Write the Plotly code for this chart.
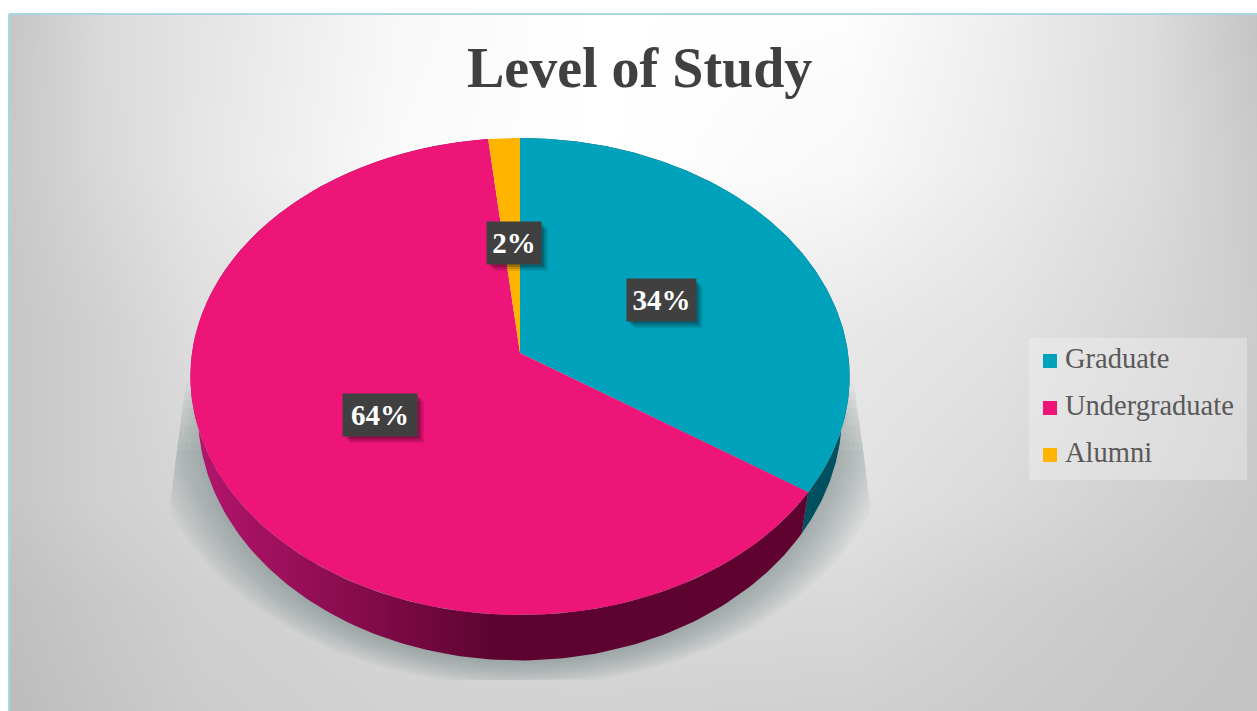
import numpy as np
import plotly.graph_objects as go

# chart values (labels round them)
categories = ["Graduate", "Undergraduate", "Alumni"]
values = [34.4, 63.9, 1.7]
top_colors = ["#00a2bb", "#ee1579", "#ffb400"]
title_text = "Level of Study"

# background grey levels
bg_x = [9, 100, 200, 400, 600, 850, 1000, 1150, 1257]
bg_y = [14, 170, 330, 500, 600, 711]
bg_grey = [
    [198, 218, 228, 248, 255, 253, 238, 220, 196],
    [200, 216, 230, 250, 255, 248, 235, 220, 202],
    [198, 208, 222, 235, 240, 232, 226, 214, 204],
    [198, 208, 214, 220, 224, 226, 218, 208, 200],
    [192, 200, 208, 214, 218, 217, 208, 201, 197],
    [188, 196, 204, 210, 210, 208, 203, 198, 196],
]

FONT = "Liberation Serif"
CX = 520
PERSP = 0.0985


def project(theta, apex_y, a, b):
    # circle in a tilted plane, far side shrinks a little
    d = 1 + PERSP * np.cos(theta)
    return CX + a * np.sin(theta) / d, apex_y - b * np.cos(theta) / d


def top_disc(theta):
    return project(theta, 353, 328, 236.2)


def bottom_disc(theta):
    return project(theta, 390, 320.4, 243.8)


fig = go.Figure()

fig.add_trace(go.Heatmap(x=bg_x, y=bg_y, z=bg_grey, zmin=0, zmax=255, zsmooth="best",
                         colorscale=[[0, "rgb(0,0,0)"], [1, "rgb(255,255,255)"]],
                         showscale=False, hoverinfo="skip"))

# soft shadow under the pie, stacked translucent rings cut off at the sides and bottom
t = np.linspace(0, 2 * np.pi, 240)
for k in range(12):
    grow = 1 - k / 12
    sx = CX + (318 + 56 * grow) * np.sin(t)
    sy = 416 + (244 + 26 * grow) * np.cos(t)
    sy = np.clip(sy, 350 + 100 * grow, 680)
    slant = (sy - 350) * 0.13
    sx = np.clip(sx, 190 - slant, 850 + slant)
    fig.add_trace(go.Scatter(x=sx, y=sy, mode="lines", line=dict(width=0), fill="toself",
                             fillcolor="rgba(115,120,120,0.055)", hoverinfo="skip"))

angles = 2 * np.pi * np.cumsum([0] + values) / sum(values)

# side wall, graduate first then undergraduate in front of it
wall_fills = [
    dict(type="horizontal", colorscale=[[0, "#00505f"], [1, "#00505f"]]),
    dict(type="horizontal", colorscale=[[0, "#b5156e"], [0.2, "#930e55"], [0.5, "#5c0330"], [1, "#60022f"]]),
]
for i in range(2):
    th = np.linspace(angles[i], angles[i + 1], 200)
    x1, y1 = top_disc(th)
    x2, y2 = bottom_disc(th[::-1])
    fig.add_trace(go.Scatter(x=np.r_[x1, x2], y=np.r_[y1, y2], mode="lines", line=dict(width=0),
                             fill="toself", fillgradient=wall_fills[i], hoverinfo="skip"))

# top face slices
for i in range(len(values)):
    th = np.linspace(angles[i], angles[i + 1], 200)
    x1, y1 = top_disc(th)
    fig.add_trace(go.Scatter(x=np.r_[CX, x1, CX], y=np.r_[353, y1, 353], mode="lines", line=dict(width=0),
                             fill="toself", fillcolor=top_colors[i], name=categories[i], hoverinfo="skip"))

# legend block
legend_y = [361, 408, 455]
fig.add_trace(go.Scatter(x=[1029, 1247, 1247, 1029, 1029], y=[338, 338, 480, 480, 338], mode="lines",
                         line=dict(width=0), fill="toself", fillcolor="rgba(245,245,245,0.35)", hoverinfo="skip"))
fig.add_trace(go.Scatter(x=[1050] * 3, y=legend_y, mode="markers",
                         marker=dict(symbol="square", size=14, color=top_colors), hoverinfo="skip"))
fig.add_trace(go.Scatter(x=[1065] * 3, y=legend_y, mode="text", text=categories, textposition="middle right",
                         textfont=dict(family=FONT, size=28.5, color="#595959"), hoverinfo="skip"))

# data labels
label_xy = [(661, 300), (380, 415), (514, 243)]
label_w = [69, 74, 54]
shapes = [
    dict(type="rect", x0=0, x1=9, y0=0, y1=711, fillcolor="white", line_width=0),
    dict(type="rect", x0=0, x1=1257, y0=0, y1=14, fillcolor="white", line_width=0),
    dict(type="line", x0=9, x1=1257, y0=14, y1=14, line=dict(color="#a6d9df", width=2)),
    dict(type="line", x0=9, x1=9, y0=14, y1=711, line=dict(color="#a6d9df", width=2)),
]
annotations = [dict(x=639, y=68, xref="x", yref="y", text=f"<b>{title_text}</b>", showarrow=False,
                    font=dict(family=FONT, size=56, color="#404040"))]
for (lx, ly), w, v in zip(label_xy, label_w, values):
    for off, alpha in [(7, 0.10), (5, 0.14), (3, 0.18)]:
        shapes.append(dict(type="rect", x0=lx - w / 2 + off, x1=lx + w / 2 + off, y0=ly - 21 + off, y1=ly + 21 + off,
                           fillcolor=f"rgba(0,0,0,{alpha})", line_width=0))
    annotations.append(dict(x=lx, y=ly, xref="x", yref="y", text=f"<b>{round(v)}%</b>", showarrow=False,
                            width=w, height=42, borderpad=0, bgcolor="#404040",
                            font=dict(family=FONT, size=29, color="white")))

fig.update_layout(
    width=1257, height=711,
    margin=dict(l=0, r=0, t=0, b=0),
    paper_bgcolor="white", plot_bgcolor="white",
    showlegend=False,
    xaxis=dict(range=[0, 1257], visible=False, fixedrange=True),
    yaxis=dict(range=[711, 0], visible=False, fixedrange=True),
    shapes=shapes, annotations=annotations,
)

fig.write_html("out.html", config=dict(displayModeBar=False),
               post_script="document.body.style.margin='0';")
